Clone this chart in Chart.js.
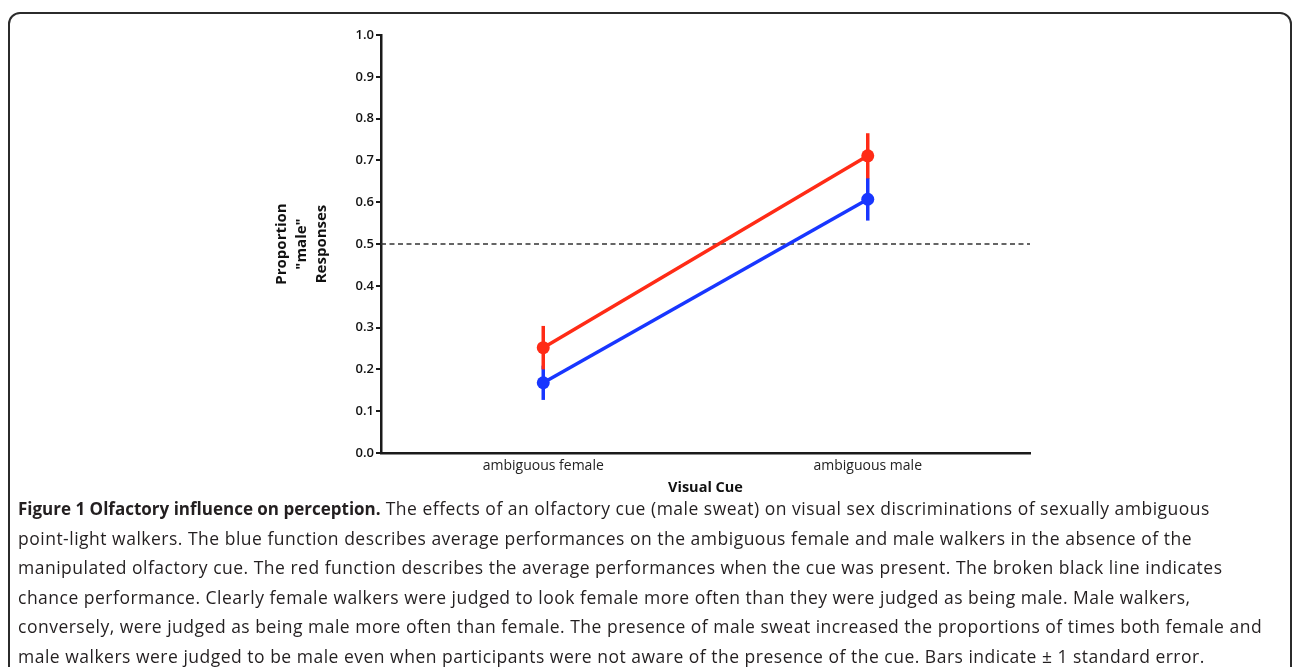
<!DOCTYPE html>
<html>
<head>
<meta charset="utf-8">
<script src="https://cdn.jsdelivr.net/npm/chart.js@4.4.1/dist/chart.umd.min.js"></script>
<style>
  html, body { margin: 0; padding: 0; background: #fff; }
  body { width: 1293px; height: 667px; position: relative; overflow: hidden; font-family: "Open Sans", sans-serif; }
  .frame {
    position: absolute; left: 8px; top: 12px; width: 1280px; height: 700px;
    border: 2px solid #2b2b2b; border-radius: 12px;
  }
  .chart-box { position: absolute; left: 0; top: 0; width: 1293px; height: 500px; }
  .caption {
    position: absolute; left: 18px; top: 494px; white-space: nowrap;
    font-size: 17.5px; letter-spacing: 0.5px; line-height: 29.6px; color: #231f20;
  }
  .caption b { font-size: 17px; letter-spacing: 0; }
</style>
</head>
<body>
<div class="frame"></div>
<div class="chart-box"><canvas id="cueChart" width="1293" height="500"></canvas></div>
<div class="caption">
<b>Figure 1 Olfactory influence on perception.</b> The effects of an olfactory cue (male sweat) on visual sex discriminations of sexually ambiguous<br>
point-light walkers. The blue function describes average performances on the ambiguous female and male walkers in the absence of the<br>
manipulated olfactory cue. The red function describes the average performances when the cue was present. The broken black line indicates<br>
chance performance. Clearly female walkers were judged to look female more often than they were judged as being male. Male walkers,<br>
conversely, were judged as being male more often than female. The presence of male sweat increased the proportions of times both female and<br>
male walkers were judged to be male even when participants were not aware of the presence of the cue. Bars indicate &plusmn; 1 standard error.
</div>
<script>
// chart data
const visualCues = ["ambiguous female", "ambiguous male"];
const cuePresent = [0.252, 0.711];     // red: male sweat present
const cuePresentSE = [0.052, 0.054];
const cueAbsent = [0.168, 0.607];      // blue: no olfactory cue
const cueAbsentSE = [0.041, 0.051];
const chanceLevel = 0.5;
const yTickLabels = ["0.0", "0.1", "0.2", "0.3", "0.4", "0.5", "0.6", "0.7", "0.8", "0.9", "1.0"];

const redColor = '#ff2b16';
const blueColor = '#1836ff';

// dashed chance line + error bars, drawn under the lines
const errorBarPlugin = {
    id: 'errorBars',
    beforeDatasetsDraw(chart) {
        const ctx = chart.ctx;
        const x = chart.scales.x;
        const y = chart.scales.y;
        const area = chart.chartArea;

        ctx.save();
        ctx.strokeStyle = '#333';
        ctx.lineWidth = 1.6;
        ctx.setLineDash([5, 3.5]);
        const yc = y.getPixelForValue(chanceLevel);
        ctx.beginPath();
        ctx.moveTo(area.left, yc);
        ctx.lineTo(area.right, yc);
        ctx.stroke();
        ctx.setLineDash([]);

        // blue first so red sits on top
        for (let i = chart.data.datasets.length - 1; i >= 0; i--) {
            const ds = chart.data.datasets[i];
            ctx.strokeStyle = ds.borderColor;
            ctx.lineWidth = 3.5;
            ds.data.forEach((v, j) => {
                const px = x.getPixelForValue(j);
                ctx.beginPath();
                ctx.moveTo(px, y.getPixelForValue(v - ds.se[j]));
                ctx.lineTo(px, y.getPixelForValue(v + ds.se[j]));
                ctx.stroke();
            });
        }
        ctx.restore();
    }
};

const ctx = document.getElementById('cueChart').getContext('2d');

const cueChart = new Chart(ctx, {
    type: 'line',
    data: {
        labels: visualCues,
        datasets: [{
            label: 'Cue present',
            data: cuePresent,
            se: cuePresentSE,
            borderColor: redColor,
            backgroundColor: redColor,
            borderWidth: 3.5,
            pointRadius: 6.5,
            pointBorderWidth: 0,
            tension: 0
        }, {
            label: 'Cue absent',
            data: cueAbsent,
            se: cueAbsentSE,
            borderColor: blueColor,
            backgroundColor: blueColor,
            borderWidth: 3.5,
            pointRadius: 6.5,
            pointBorderWidth: 0,
            tension: 0
        }]
    },
    options: {
        responsive: false,
        animation: false,
        layout: {
            padding: { top: 35, right: 263, bottom: 0, left: 0 }
        },
        plugins: {
            legend: { display: false },
            tooltip: { enabled: false }
        },
        scales: {
            x: {
                type: 'category',
                offset: true,
                afterFit: s => { s.height = 47; },
                grid: { display: false, drawTicks: false },
                border: { display: true, color: '#1a1a1a', width: 2.5 },
                ticks: {
                    padding: 5,
                    color: '#222',
                    font: { family: 'Open Sans', size: 14 }
                },
                title: {
                    display: true,
                    text: 'Visual Cue',
                    color: '#111',
                    padding: { top: 0, bottom: 3 },
                    font: { family: 'Open Sans', size: 14.5, weight: 'bold' }
                }
            },
            y: {
                min: 0,
                max: 1,
                afterFit: s => { s.width = 381; },
                grid: {
                    drawOnChartArea: false,
                    drawTicks: true,
                    tickLength: 5,
                    color: '#1a1a1a',
                    lineWidth: 2
                },
                border: { display: true, color: '#1a1a1a', width: 2.5 },
                ticks: {
                    stepSize: 0.1,
                    padding: 2,
                    color: '#111',
                    font: { family: 'Open Sans', size: 13, weight: 600 },
                    callback: (v, i) => yTickLabels[i]
                },
                title: {
                    display: true,
                    text: ['Proportion', '"male"', 'Responses'],
                    color: '#111',
                    padding: { top: 272, bottom: 0 },
                    font: { family: 'Open Sans', size: 15, weight: 'bold', lineHeight: 1.33 }
                }
            }
        }
    },
    plugins: [errorBarPlugin]
});
</script>
</body>
</html>
